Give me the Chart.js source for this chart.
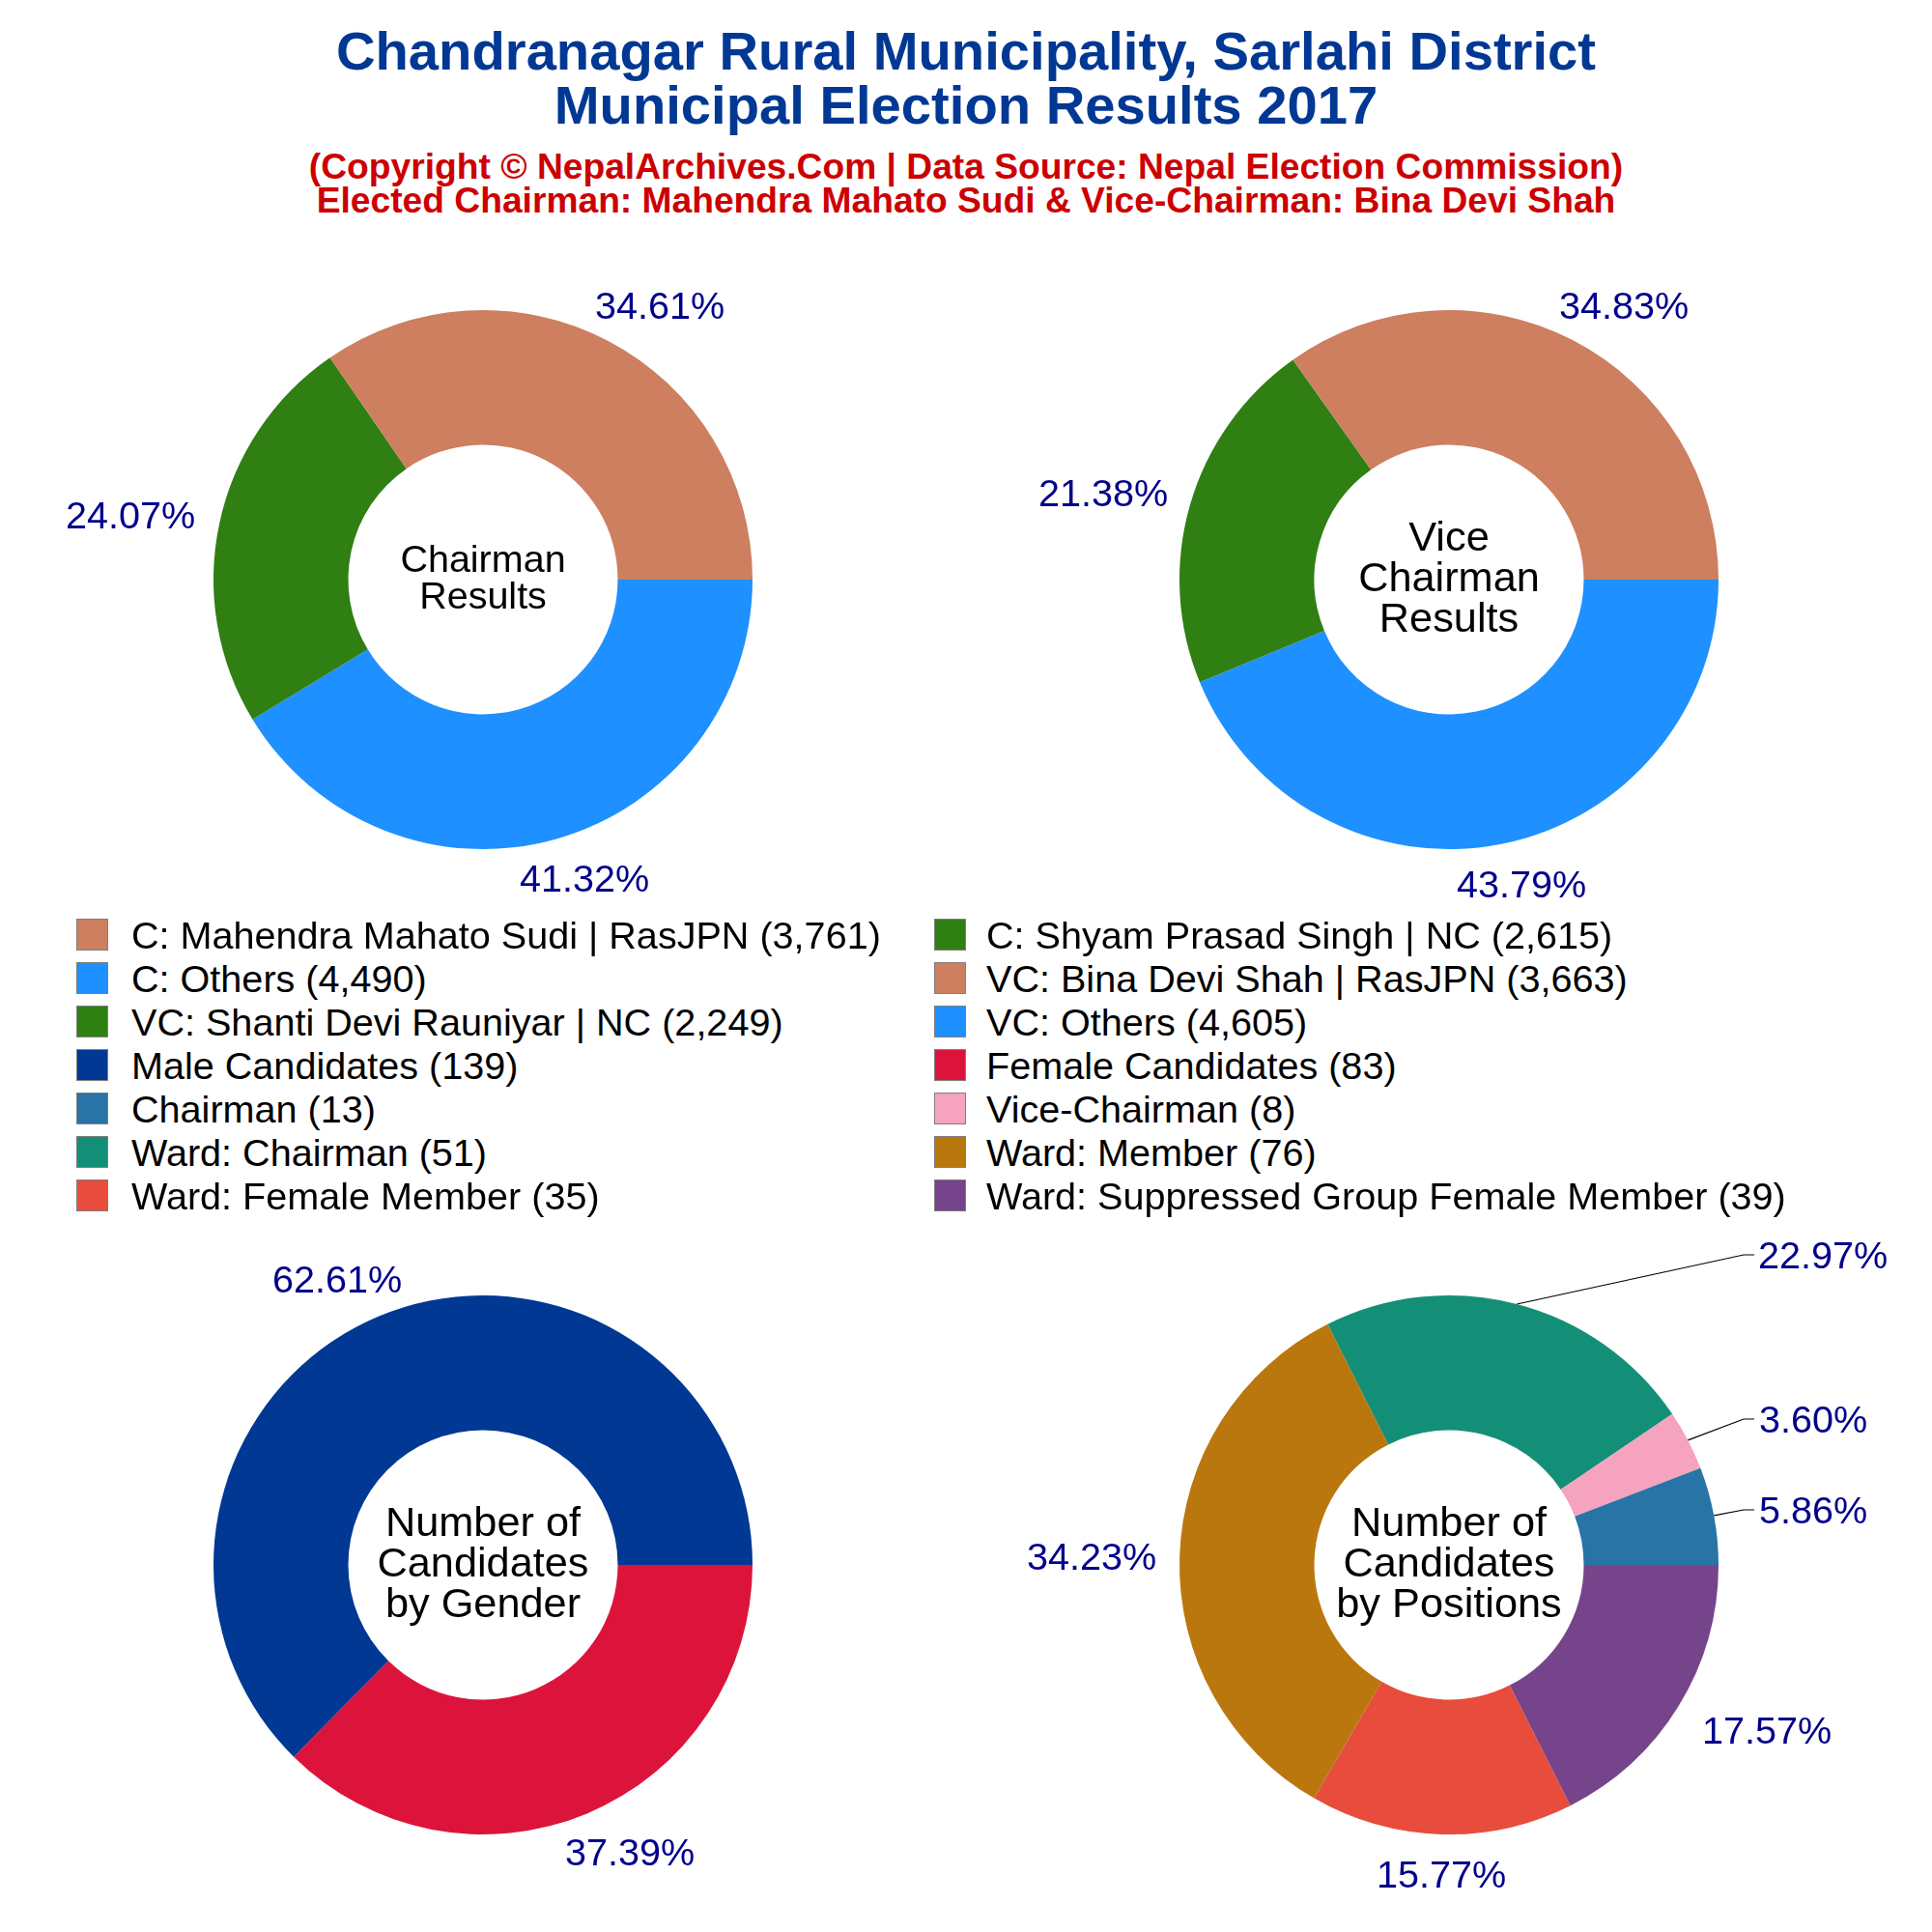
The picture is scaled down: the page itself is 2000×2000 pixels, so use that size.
<!DOCTYPE html>
<html>
<head>
<meta charset="utf-8">
<title>Chandranagar Rural Municipality election results</title>
<script src="https://cdn.jsdelivr.net/npm/chart.js@4"></script>
<style>
  html, body { margin: 0; background: #fff; overflow: hidden; }
  body { position: relative; width: 2000px; height: 2000px; font-family: "Liberation Sans", Arial, sans-serif; }
  canvas { position: absolute; display: block; }
  .head { position: absolute; left: 0; width: 2000px; text-align: center; font-weight: bold; white-space: nowrap; }
  .title { color: #003893; font-size: 56.2px; line-height: 56px; }
  .sub { color: #CC0000; font-size: 37.2px; line-height: 35px; }
  .item { position: absolute; height: 33px; white-space: nowrap; font-size: 39.6px; line-height: 35px; color: #000; }
  .swatch { position: absolute; width: 31px; height: 31px; border: 1px solid #7f7f7f; }
</style>
</head>
<body>
<div class="head title" style="top:25px">Chandranagar Rural Municipality, Sarlahi District</div>
<div class="head title" style="top:81px">Municipal Election Results 2017</div>
<div class="head sub" style="top:155px">(Copyright © NepalArchives.Com | Data Source: Nepal Election Commission)</div>
<div class="head sub" style="top:190px">Elected Chairman: Mahendra Mahato Sudi &amp; Vice-Chairman: Bina Devi Shah</div>
<script>
// series, listed in the order the legend reads
const chairmanNames = ["C: Mahendra Mahato Sudi | RasJPN", "C: Shyam Prasad Singh | NC", "C: Others"];
const chairmanVotes = [3761, 2615, 4490];
const viceNames = ["VC: Bina Devi Shah | RasJPN", "VC: Shanti Devi Rauniyar | NC", "VC: Others"];
const viceVotes = [3663, 2249, 4605];
const genderNames = ["Male Candidates", "Female Candidates"];
const genderCounts = [139, 83];
const positionNames = ["Chairman", "Vice-Chairman", "Ward: Chairman", "Ward: Member", "Ward: Female Member", "Ward: Suppressed Group Female Member"];
const positionCounts = [13, 8, 51, 76, 35, 39];

const voteColors = ["#CD7F60", "#2F7F13", "#1E90FF"];
const genderColors = ["#003893", "#DC143C"];
const positionColors = ["#2874A6", "#F5A3BE", "#148F77", "#B9770E", "#E74C3C", "#76448A"];

// one label per slice, offset from the donut centre
const chairmanLabelPos = [[183, -281], [-365, -64], [105, 312]];
const viceLabelPos = [[181, -281], [-358, -87], [75, 318]];
const genderLabelPos = [[-151, -293], [152, 300]];
const positionLabelPos = [[377, -54], [377, -148], [387, -318], [-370, -6], [-8, 323], [329, 174]];
const positionLeaderY = [-57, -151, -321, null, null, null];

const RADIUS = 279, CANVAS_W = 980, CANVAS_H = 740;

const donutText = {
  id: "donutText",
  afterDraw(chart, args, opts) {
    const ctx = chart.ctx;
    const arcs = chart.getDatasetMeta(0).data;
    const total = opts.values.reduce((a, b) => a + b, 0);
    const cx = arcs[0].x, cy = arcs[0].y;
    const n = arcs.length;
    ctx.save();
    ctx.textAlign = "center";
    ctx.textBaseline = "middle";

    // arcs are drawn reversed, so walk them back to the legend order
    opts.values.forEach((v, i) => {
      const arc = arcs[n - 1 - i];
      const pos = opts.labelPos[i];
      const leaderY = opts.leaderY ? opts.leaderY[i] : null;
      if (leaderY !== null) {
        const a = (arc.startAngle + arc.endAngle) / 2;
        ctx.strokeStyle = "#000";
        ctx.lineWidth = 1.2;
        ctx.beginPath();
        ctx.moveTo(cx + arc.outerRadius * Math.cos(a), cy + arc.outerRadius * Math.sin(a));
        ctx.lineTo(cx + 305, cy + leaderY);
        ctx.lineTo(cx + 316, cy + leaderY);
        ctx.stroke();
      }
      ctx.fillStyle = "#00008B";
      ctx.font = '39.6px "Liberation Sans"';
      ctx.fillText((v / total * 100).toFixed(2) + "%", cx + pos[0], cy + pos[1]);
    });

    ctx.fillStyle = "#000";
    ctx.font = opts.centerSize + 'px "Liberation Sans"';
    const gap = opts.centerGap;
    opts.center.forEach((line, i) => {
      ctx.fillText(line, cx, cy + (i - (opts.center.length - 1) / 2) * gap);
    });
    ctx.restore();
  }
};

function addDonut(left, top, names, values, colors, textOpts) {
  const canvas = document.createElement("canvas");
  canvas.width = CANVAS_W;
  canvas.height = CANVAS_H;
  canvas.style.left = left + "px";
  canvas.style.top = top + "px";
  document.body.appendChild(canvas);
  new Chart(canvas, {
    type: "doughnut",
    data: {
      labels: names.slice().reverse(),
      datasets: [{
        data: values.slice().reverse(),
        backgroundColor: colors.slice().reverse(),
        borderWidth: 0
      }]
    },
    options: {
      responsive: false,
      animation: false,
      devicePixelRatio: 1,
      rotation: 90,
      cutout: "50%",
      layout: { padding: { left: (CANVAS_W - 2 * RADIUS) / 2, right: (CANVAS_W - 2 * RADIUS) / 2, top: (CANVAS_H - 2 * RADIUS) / 2, bottom: (CANVAS_H - 2 * RADIUS) / 2 } },
      plugins: {
        legend: { display: false },
        tooltip: { enabled: false },
        donutText: Object.assign({ values: values }, textOpts)
      }
    },
    plugins: [donutText]
  });
}

addDonut(10, 230, chairmanNames, chairmanVotes, voteColors, {
  labelPos: chairmanLabelPos, center: ["Chairman", "Results"], centerSize: 39.5, centerGap: 38
});
addDonut(1010, 230, viceNames, viceVotes, voteColors, {
  labelPos: viceLabelPos, center: ["Vice", "Chairman", "Results"], centerSize: 43.3, centerGap: 42
});
addDonut(10, 1250, genderNames, genderCounts, genderColors, {
  labelPos: genderLabelPos, center: ["Number of", "Candidates", "by Gender"], centerSize: 43.3, centerGap: 42
});
addDonut(1010, 1250, positionNames, positionCounts, positionColors, {
  labelPos: positionLabelPos, leaderY: positionLeaderY, center: ["Number of", "Candidates", "by Positions"], centerSize: 43.3, centerGap: 42
});

// legend fills row by row across two columns
const legendNames = chairmanNames.concat(viceNames, genderNames, positionNames);
const legendValues = chairmanVotes.concat(viceVotes, genderCounts, positionCounts);
const legendColors = voteColors.concat(voteColors, genderColors, positionColors);
legendNames.forEach((name, i) => {
  const top = 951 + Math.floor(i / 2) * 45;
  const item = document.createElement("div");
  item.className = "item";
  item.style.left = (i % 2 ? 1021 : 136) + "px";
  item.style.top = top + "px";
  item.textContent = name + " (" + legendValues[i].toLocaleString("en-US") + ")";
  const swatch = document.createElement("span");
  swatch.className = "swatch";
  swatch.style.left = (i % 2 ? 967 : 79) + "px";
  swatch.style.top = top + "px";
  swatch.style.background = legendColors[i];
  document.body.appendChild(swatch);
  document.body.appendChild(item);
});
</script>
</body>
</html>
